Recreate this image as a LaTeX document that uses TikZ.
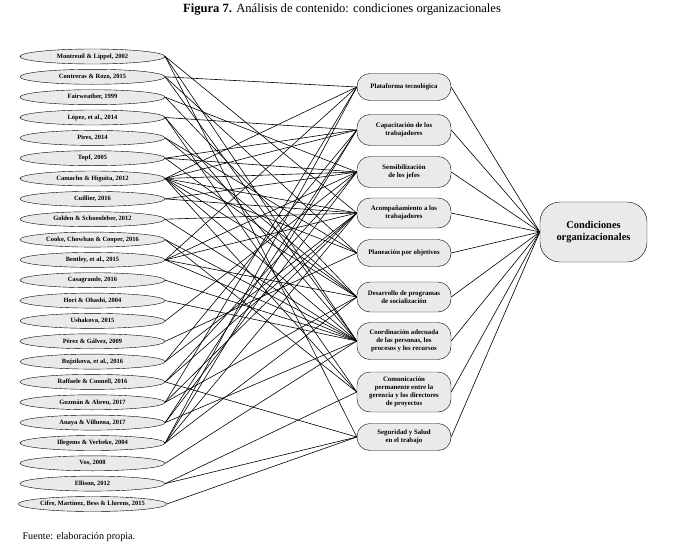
\documentclass[tikz,border=0pt]{standalone}
\usepackage{fontspec}
\setmainfont{Liberation Serif}
\usetikzlibrary{positioning,shapes.geometric}
\usepackage{xcolor}
\definecolor{nodefill}{RGB}{234,234,234}

\begin{document}
\begin{tikzpicture}[
    x=1pt, y=-1pt,
    ref/.style={draw, ellipse, fill=nodefill, minimum width=145pt, minimum height=15pt,
                inner sep=0pt, font=\fontsize{6.5}{7}\selectfont\bfseries},
    factor/.style={draw, rounded corners=13pt, fill=nodefill, minimum width=94pt,
                   minimum height=27pt, inner sep=1pt, align=center,
                   font=\fontsize{6.8}{7.9}\selectfont\bfseries},
    goal/.style={draw, rounded corners=20pt, fill=nodefill, minimum width=107pt,
                 minimum height=60pt, align=center, font=\fontsize{10.4}{12}\selectfont\bfseries},
    link/.style={line width=0.6pt}
]
    \useasboundingbox (0,0) rectangle (683,546);

    % Title and source
    \node[font=\fontsize{12.6}{14}\selectfont] (title) at (342,10)
        {\textbf{Figura 7.} Análisis de contenido: condiciones organizacionales};
    \node[font=\fontsize{10.2}{12}\selectfont, anchor=west] (source) at (19,537)
        {Fuente: elaboración propia.};

    % Reviewed authors, left column
    \node[ref] (montreuil)  at (92.5,56.5)  {Montreuil \& Lippel, 2002};
    \node[ref] (contreras)  at (92.5,76.8)  {Contreras \& Rozo, 2015};
    \node[ref] (fairweather) at (92.5,97.2) {Fairweather, 1999};
    \node[ref] (lopez)      at (92.5,117.5) {López, et al., 2014};
    \node[ref] (pires)      at (92.5,137.9) {Pires, 2014};
    \node[ref] (topf)       at (92.5,158.2) {Topf, 2005};
    \node[ref] (camacho)    at (92.5,178.5) {Camacho \& Higuita, 2012};
    \node[ref] (cuillier)   at (92.5,198.9) {Cuillier, 2016};
    \node[ref] (golden)     at (92.5,219.2) {Golden \& Schoenleber, 2012};
    \node[ref] (cooke)      at (92.5,239.6) {Cooke, Chowhan \& Cooper, 2016};
    \node[ref] (bentley)    at (92.5,259.9) {Bentley, et al., 2015};
    \node[ref] (casagrande) at (92.5,280.2) {Casagrande, 2016};
    \node[ref] (hori)       at (92.5,300.6) {Hori \& Ohashi, 2004};
    \node[ref] (ushakova)   at (92.5,320.9) {Ushakova, 2015};
    \node[ref] (perez)      at (92.5,341.3) {Pérez \& Gálvez, 2009};
    \node[ref] (bujzikova)  at (92.5,361.6) {Bujzikova, et al., 2016};
    \node[ref] (raffaele)   at (92.5,381.9) {Raffaele \& Connell, 2016};
    \node[ref] (guzman)     at (92.5,402.3) {Guzmán \& Abreu, 2017};
    \node[ref] (anaya)      at (92.5,422.6) {Anaya \& Villuena, 2017};
    \node[ref] (illegems)   at (92.5,443.0) {Illegems \& Verbeke, 2004};
    \node[ref] (vos)        at (92.5,463.3) {Vos, 2008};
    \node[ref] (ellison)    at (92.5,483.6) {Ellison, 2012};
    \node[ref] (cifre)      at (92.5,504.0) {Cifre, Martínez, Bess \& Llorens, 2015};

    % Organizational conditions, middle column
    \node[factor] (plataforma)      at (404,87)  {Plataforma tecnológica};
    \node[factor, minimum height=31pt] (capacitacion) at (404,130)
        {Capacitación de los\\trabajadores};
    \node[factor, minimum height=31pt] (sensibilizacion) at (404,172)
        {Sensibilización\\de los jefes};
    \node[factor, minimum height=30pt] (acompanamiento) at (404,213)
        {Acompañamiento a los\\trabajadores};
    \node[factor] (planeacion)      at (404,253) {Planeación por objetivos};
    \node[factor, minimum height=30pt] (desarrollo) at (404,297)
        {Desarrollo de programas\\de socialización};
    \node[factor, minimum height=37pt] (coordinacion) at (404,341)
        {Coordinación adecuada\\de las personas, los\\procesos y los recursos};
    \node[factor, minimum height=40pt] (comunicacion) at (404,392)
        {Comunicación\\permanente entre la\\gerencia y los directores\\de proyectos};
    \node[factor] (seguridad)       at (404,437) {Seguridad y Salud\\en el trabajo};

    % Category
    \node[goal] (condiciones) at (593.5,232) {Condiciones\\organizacionales};

    % Authors to conditions
    \path[link] (montreuil.east) edge (acompanamiento.west) edge (coordinacion.west) edge (seguridad.west);
    \path[link] (contreras.east) edge (plataforma.west) edge (planeacion.west) edge (coordinacion.west);
    \path[link] (fairweather.east) edge (sensibilizacion.west) edge (desarrollo.west);
    \path[link] (lopez.east) edge (capacitacion.west) edge (coordinacion.west) edge (comunicacion.west);
    \path[link] (pires.east) edge (planeacion.west) edge (desarrollo.west);
    \path[link] (topf.east) edge (capacitacion.west) edge (sensibilizacion.west) edge (desarrollo.west);
    \path[link] (camacho.east) edge (plataforma.west) edge (capacitacion.west)
        edge (sensibilizacion.west) edge (acompanamiento.west) edge (planeacion.west)
        edge (desarrollo.west) edge (coordinacion.west) edge (comunicacion.west);
    \path[link] (cuillier.east) edge (sensibilizacion.west) edge (acompanamiento.west);
    \path[link] (golden.east) edge (acompanamiento.west) edge (coordinacion.west);
    \path[link] (cooke.east) edge (coordinacion.west) edge (comunicacion.west);
    \path[link] (bentley.east) edge (plataforma.west) edge (sensibilizacion.west)
        edge (acompanamiento.west) edge (desarrollo.west) edge (coordinacion.west);
    \path[link] (casagrande.east) edge (coordinacion.west);
    \path[link] (hori.east) edge (coordinacion.west);
    \path[link] (ushakova.east) edge (sensibilizacion.west);
    \path[link] (perez.east) edge (planeacion.west);
    \path[link] (bujzikova.east) edge (capacitacion.west) edge (acompanamiento.west);
    \path[link] (raffaele.east) edge (sensibilizacion.west) edge (acompanamiento.west) edge (seguridad.west);
    \path[link] (guzman.east) edge (plataforma.west) edge (acompanamiento.west) edge (desarrollo.west);
    \path[link] (anaya.east) edge (capacitacion.west) edge (sensibilizacion.west) edge (coordinacion.west);
    \path[link] (illegems.east) edge (plataforma.west) edge (capacitacion.west)
        edge (acompanamiento.west) edge (desarrollo.west);
    \path[link] (vos.east) edge (coordinacion.west);
    \path[link] (ellison.east) edge (comunicacion.west) edge (seguridad.west);
    \path[link] (cifre.east) edge (seguridad.west);

    % Conditions to category
    \foreach \f in {plataforma,capacitacion,sensibilizacion,acompanamiento,planeacion,
                    desarrollo,coordinacion,comunicacion,seguridad}
        \draw[link] (\f.east) -- (condiciones.west);
\end{tikzpicture}
\end{document}
